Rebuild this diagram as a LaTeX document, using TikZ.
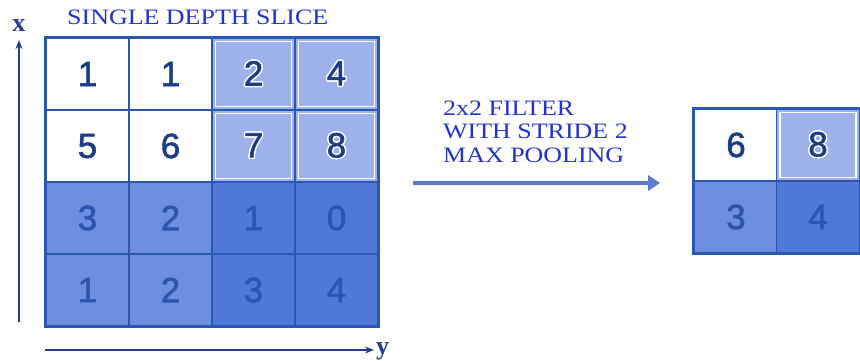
\documentclass[tikz,border=0pt]{standalone}
\usepackage{fontspec}
\setmainfont{Liberation Serif}
\newfontfamily\digitfont[FakeBold=1.6]{Liberation Sans}
\usepackage[copies]{contour}
\contourlength{1.4pt}
\usetikzlibrary{arrows.meta}

\definecolor{gridline}{HTML}{2A58B0}
\definecolor{axisnavy}{HTML}{283C8C}
\definecolor{cellLight}{HTML}{9DB1EA}
\definecolor{cellMid}{HTML}{6E8EE0}
\definecolor{cellDark}{HTML}{5078D8}
\definecolor{digitNavy}{HTML}{1C3C85}
\definecolor{digitSoft}{HTML}{2A56B0}
\definecolor{titleblue}{HTML}{2233CC}
\definecolor{arrowblue}{HTML}{5A7BD0}

\tikzset{
  cell/.style={draw=gridline, line width=1.6pt, minimum width=83pt, minimum height=72pt,
    inner sep=0pt, font=\digitfont\fontsize{35}{35}\selectfont, text=digitNavy},
  cellW/.style={cell, fill=white},
  cellL/.style={cell, fill=cellLight,
    path picture={\draw[white, line width=1.6pt]
      ([shift={(3.5pt,-3.5pt)}]path picture bounding box.north west) rectangle
      ([shift={(-3.5pt,3.5pt)}]path picture bounding box.south east);}},
  cellM/.style={cell, fill=cellMid, text=digitSoft},
  cellD/.style={cell, fill=cellDark, text=digitSoft},
  caps/.style={text=titleblue, font=\fontsize{22}{22}\selectfont, inner sep=0pt, anchor=base west},
  axis/.style={draw=axisnavy, line width=1.8pt, -{Stealth[length=9pt,width=7pt]}},
  axislabel/.style={text=axisnavy, font=\bfseries\fontsize{26}{26}\selectfont, inner sep=0pt}
}

\newcommand{\lite}[1]{\contour{white}{#1}}
\newcommand{\wide}[1]{\scalebox{1.18}[1]{#1}}

\begin{document}
\begin{tikzpicture}[x=1pt, y=-1pt]
\useasboundingbox (0,0) rectangle (860,361);

% input slice, 4x4
\node[cellW] (c11) at (87.5,74) {1};
\node[cellW] (c12) at (170.5,74) {1};
\node[cellL] (c13) at (253.5,74) {\lite{2}};
\node[cellL] (c14) at (336.5,74) {\lite{4}};
\node[cellW] (c21) at (87.5,146) {5};
\node[cellW] (c22) at (170.5,146) {6};
\node[cellL] (c23) at (253.5,146) {\lite{7}};
\node[cellL] (c24) at (336.5,146) {\lite{8}};
\node[cellM] (c31) at (87.5,218) {3};
\node[cellM] (c32) at (170.5,218) {2};
\node[cellD] (c33) at (253.5,218) {1};
\node[cellD] (c34) at (336.5,218) {0};
\node[cellM] (c41) at (87.5,290) {1};
\node[cellM] (c42) at (170.5,290) {2};
\node[cellD] (c43) at (253.5,290) {3};
\node[cellD] (c44) at (336.5,290) {4};
\draw[gridline, line width=2.6pt] (c11.north west) rectangle (c44.south east);

% axes
\coordinate (xfoot) at (19,322);
\coordinate (xhead) at (19,40);
\coordinate (yfoot) at (45,350);
\coordinate (yhead) at (374,350);
\draw[axis] (xfoot) -- (xhead);
\draw[axis] (yfoot) -- (yhead);
\node[axislabel, anchor=base] (xlab) at (19,32) {x};
\node[axislabel, anchor=base west] (ylab) at (376,354) {y};

% title
\node[caps] (title) at (67,25) {\wide{SINGLE DEPTH SLICE}};

% operation label
\node[caps] (op1) at (443,115) {\wide{2x2 FILTER}};
\node[caps] (op2) at (443,138.5) {\wide{WITH STRIDE 2}};
\node[caps] (op3) at (443,162) {\wide{MAX POOLING}};

% pooled output, 2x2
\node[cellW] (o11) at (736,145) {6};
\node[cellL] (o12) at (818,145) {\lite{8}};
\node[cellM] (o21) at (736,217) {3};
\node[cellD] (o22) at (818,217) {4};
\draw[gridline, line width=2.6pt] (o11.north west) rectangle (o22.south east);

% pooling arrow
\coordinate (poolS) at (413,183);
\coordinate (poolE) at (660,183);
\draw[arrowblue, line width=4.5pt, -{Triangle[length=12pt,width=15pt]}] (poolS) -- (poolE);
\end{tikzpicture}
\end{document}
